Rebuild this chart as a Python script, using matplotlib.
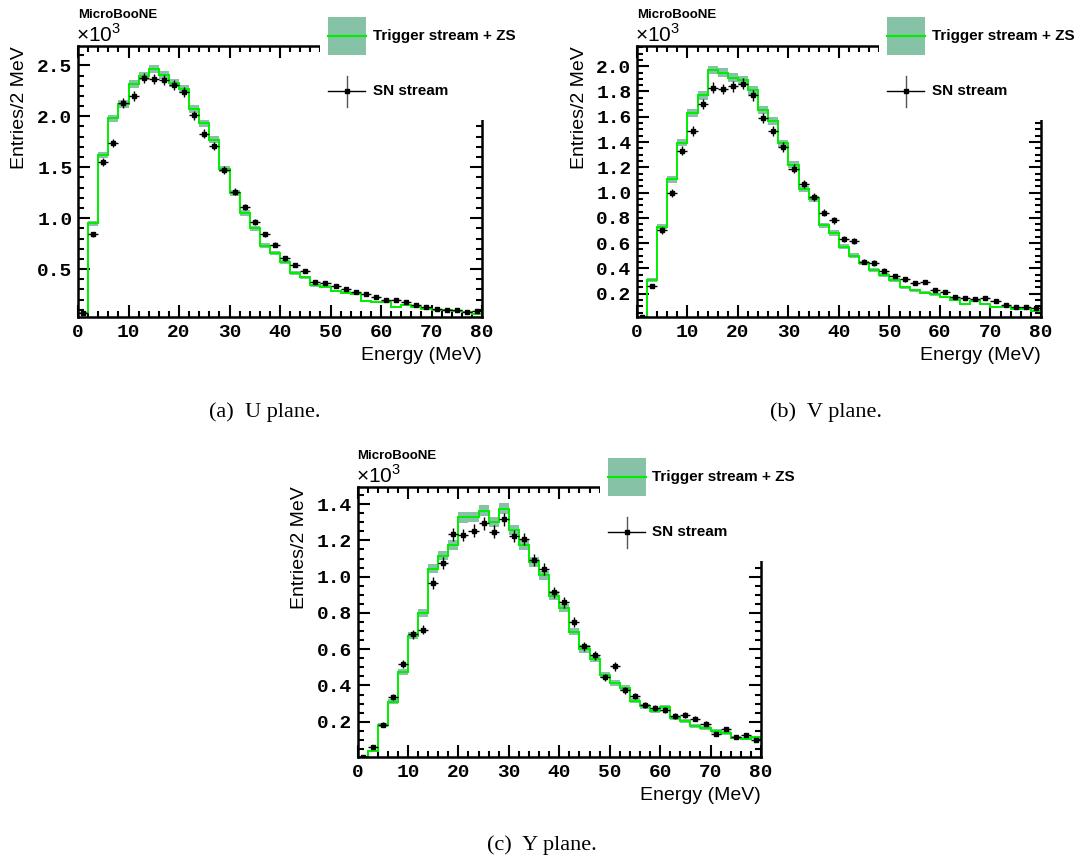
import numpy as np
import matplotlib
matplotlib.use("Agg")
import matplotlib.pyplot as plt
from matplotlib.patches import Rectangle
from matplotlib.ticker import MultipleLocator, FormatStrFormatter

# ---------------- data (entries / 2 MeV, in units of 10^3) ----------------
edges = np.arange(0, 82, 2)
centers = edges[:-1] + 1

mc_u = [0.07, 0.95, 1.62, 1.98, 2.12, 2.32, 2.40, 2.46, 2.41, 2.33,
        2.27, 2.07, 1.93, 1.77, 1.48, 1.25, 1.05, 0.90, 0.73, 0.66,
        0.57, 0.46, 0.42, 0.34, 0.325, 0.286, 0.27, 0.26, 0.184, 0.175,
        0.175, 0.128, 0.152, 0.128, 0.112, 0.10, 0.096, 0.09, 0.079, 0.063]
sn_u = [0.066, 0.84, 1.55, 1.74, 2.13, 2.20, 2.38, 2.37, 2.36, 2.31,
        2.24, 2.01, 1.83, 1.71, 1.47, 1.26, 1.11, 0.96, 0.84, 0.74,
        0.605, 0.54, 0.48, 0.375, 0.36, 0.33, 0.30, 0.276, 0.26, 0.227,
        0.20, 0.20, 0.175, 0.152, 0.128, 0.112, 0.10, 0.096, 0.079, 0.085]

mc_v = [0.01, 0.31, 0.73, 1.105, 1.395, 1.63, 1.77, 1.97, 1.95, 1.91,
        1.89, 1.81, 1.655, 1.57, 1.39, 1.22, 1.03, 0.95, 0.74, 0.68,
        0.57, 0.50, 0.44, 0.385, 0.35, 0.31, 0.25, 0.226, 0.208, 0.194,
        0.173, 0.152, 0.12, 0.14, 0.12, 0.094, 0.094, 0.08, 0.08, 0.062]
sn_v = [0.014, 0.26, 0.70, 1.00, 1.33, 1.49, 1.70, 1.83, 1.82, 1.84,
        1.86, 1.77, 1.59, 1.49, 1.36, 1.19, 1.07, 0.967, 0.84, 0.78,
        0.63, 0.615, 0.454, 0.443, 0.38, 0.34, 0.313, 0.284, 0.29, 0.23,
        0.213, 0.17, 0.165, 0.157, 0.163, 0.14, 0.107, 0.094, 0.094, 0.086]

mc_y = [0.005, 0.04, 0.18, 0.31, 0.475, 0.675, 0.80, 1.044, 1.116, 1.177,
        1.327, 1.33, 1.363, 1.30, 1.375, 1.257, 1.173, 1.081, 1.007, 0.896,
        0.828, 0.697, 0.601, 0.546, 0.457, 0.413, 0.385, 0.315, 0.285, 0.259,
        0.281, 0.222, 0.204, 0.176, 0.167, 0.148, 0.137, 0.111, 0.106, 0.115]
sn_y = [0.004, 0.062, 0.183, 0.337, 0.518, 0.682, 0.708, 0.965, 1.075, 1.233,
        1.23, 1.253, 1.294, 1.247, 1.316, 1.225, 1.208, 1.09, 1.044, 0.915,
        0.859, 0.752, 0.616, 0.566, 0.444, 0.505, 0.374, 0.342, 0.294, 0.276,
        0.266, 0.232, 0.237, 0.217, 0.189, 0.134, 0.161, 0.115, 0.126, 0.097]

x_ticks = [0, 10, 20, 30, 40, 50, 60, 70, 80]
legend_labels = ["Trigger stream + ZS", "SN stream"]
captions = ["(a)  U plane.", "(b)  V plane.", "(c)  Y plane."]
x_label = "Energy (MeV)"
y_label = "Entries/2 MeV"
experiment = "MicroBooNE"

# ---------------- style ----------------
W, H = 1085, 858
BAND = "#86c2a5"
LINE = "#00ee00"
MONO = "Liberation Mono"
SANS = "Liberation Sans"
SERIF = "Liberation Serif"
plt.rcParams["mathtext.fontset"] = "custom"
plt.rcParams["mathtext.rm"] = SANS

fig = plt.figure(figsize=(W / 100, H / 100), dpi=100)


def px_axes(l, t, r, b):
    return fig.add_axes([l / W, 1 - b / H, (r - l) / W, (b - t) / H])


panels = [
    dict(box=(78, 46, 482, 317), mc=mc_u, sn=sn_u, ylim=(0.03, 2.69),
         major=0.5, minor=0.1, cap=captions[0], capxy=(265, 412)),
    dict(box=(637, 46, 1041, 317), mc=mc_v, sn=sn_v, ylim=(0.015, 2.16),
         major=0.2, minor=0.05, cap=captions[1], capxy=(826, 412)),
    dict(box=(357.5, 486.7, 761, 757.3), mc=mc_y, sn=sn_y, ylim=(0.004, 1.496),
         major=0.2, minor=0.05, cap=captions[2], capxy=(542, 845)),
]

for p in panels:
    l, t, r, b = p["box"]
    ax = px_axes(l, t, r, b)
    mc = np.array(p["mc"])
    sn = np.array(p["sn"])
    mc_err = 0.8 * np.sqrt(mc * 1000) / 1000
    sn_err = np.sqrt(sn * 1000) / 1000

    ax.stairs(mc + mc_err, edges, baseline=mc - mc_err, fill=True,
              color=BAND, lw=0, zorder=1)
    ax.stairs(mc, edges, baseline=None, color=LINE, lw=1.4, zorder=2)
    ax.errorbar(centers, sn, xerr=1, yerr=sn_err, fmt="s", color="black",
                ms=3.5, elinewidth=1.0, capsize=0, zorder=3)

    ax.set_xlim(0, 80)
    ax.set_ylim(*p["ylim"])
    ax.set_xticks(x_ticks)
    ax.xaxis.set_minor_locator(MultipleLocator(2))
    ax.yaxis.set_major_locator(MultipleLocator(p["major"]))
    ax.yaxis.set_minor_locator(MultipleLocator(p["minor"]))
    ax.yaxis.set_major_formatter(FormatStrFormatter("%.1f"))
    ax.tick_params(which="both", direction="in", top=True, right=True,
                   width=1.5)
    ax.tick_params(which="major", length=8.5)
    ax.tick_params(which="minor", length=4.3)
    ax.tick_params(axis="x", which="major", pad=5)
    ax.tick_params(axis="y", which="major", pad=4)
    for lab in ax.get_xticklabels() + ax.get_yticklabels():
        lab.set_fontfamily(MONO)
        lab.set_fontweight("bold")
        lab.set_fontsize(14)
    for s in ax.spines.values():
        s.set_linewidth(1.8)

# overlay on top for texts and legends (pixel coordinates)
ov = fig.add_axes([0, 0, 1, 1])
ov.set_xlim(0, W)
ov.set_ylim(H, 0)
ov.axis("off")

for p in panels:
    l, t, r, b = p["box"]
    ov.text(l, t - 31, experiment, fontfamily=SANS, fontweight="bold",
            fontsize=9.5, ha="left", va="center")
    ov.text(l - 2, t - 11, r"$\times10^{3}$", fontsize=15,
            ha="left", va="center")
    ov.text(l - 58, t, y_label, fontfamily=SANS, fontsize=14, rotation=90,
            ha="center", va="top")
    ov.text(r, b + 38, x_label, fontfamily=SANS, fontsize=14,
            ha="right", va="center")
    ov.text(p["capxy"][0], p["capxy"][1], p["cap"], fontfamily=SERIF,
            fontsize=16, ha="center", va="center")

    # legend (white box hiding the top-right corner of the frame)
    ov.add_patch(Rectangle((l + 242, t - 40), r - l - 242 + 12, 114,
                           facecolor="white", edgecolor="none"))
    ov.add_patch(Rectangle((l + 250, t - 29), 38, 38, facecolor=BAND,
                           edgecolor="none"))
    ov.plot([l + 250, l + 288], [t - 10, t - 10], color=LINE, lw=1.5)
    ov.text(l + 295, t - 10, legend_labels[0], fontfamily=SANS,
            fontweight="bold", fontsize=11, ha="left", va="center")
    ov.plot([l + 250, l + 287], [t + 45, t + 45], color="black", lw=1)
    ov.plot([l + 269, l + 269], [t + 30, t + 61], color="#555555", lw=1)
    ov.plot([l + 269], [t + 45], marker="s", color="black", ms=3)
    ov.text(l + 295, t + 45, legend_labels[1], fontfamily=SANS,
            fontweight="bold", fontsize=11, ha="left", va="center")

fig.savefig("out.png", dpi=100)
